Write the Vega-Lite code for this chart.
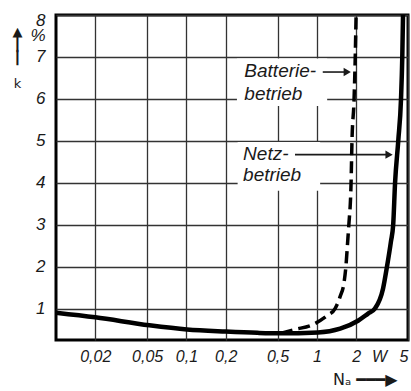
{
  "$schema": "https://vega.github.io/schema/vega-lite/v6.json",
  "width": 352,
  "height": 325,
  "autosize": {"type": "none"},
  "padding": {"left": 56, "top": 15, "right": 3, "bottom": 51},
  "background": "white",
  "config": {"view": {"stroke": "black", "strokeWidth": 3}, "font": "Liberation Sans"},
  "datasets": {
    "curves": [
      {"series": "Netzbetrieb", "x": 0.01, "y": 0.9},
      {"series": "Netzbetrieb", "x": 0.02, "y": 0.79},
      {"series": "Netzbetrieb", "x": 0.052, "y": 0.6},
      {"series": "Netzbetrieb", "x": 0.101, "y": 0.5},
      {"series": "Netzbetrieb", "x": 0.2, "y": 0.45},
      {"series": "Netzbetrieb", "x": 0.35, "y": 0.42},
      {"series": "Netzbetrieb", "x": 0.513, "y": 0.41},
      {"series": "Netzbetrieb", "x": 1.02, "y": 0.43},
      {"series": "Netzbetrieb", "x": 1.51, "y": 0.52},
      {"series": "Netzbetrieb", "x": 2.07, "y": 0.71},
      {"series": "Netzbetrieb", "x": 2.47, "y": 0.88},
      {"series": "Netzbetrieb", "x": 2.79, "y": 1.0},
      {"series": "Netzbetrieb", "x": 3.22, "y": 1.48},
      {"series": "Netzbetrieb", "x": 3.45, "y": 2.0},
      {"series": "Netzbetrieb", "x": 3.7, "y": 2.6},
      {"series": "Netzbetrieb", "x": 3.85, "y": 3.0},
      {"series": "Netzbetrieb", "x": 3.98, "y": 4.0},
      {"series": "Netzbetrieb", "x": 4.21, "y": 5.0},
      {"series": "Netzbetrieb", "x": 4.42, "y": 6.0},
      {"series": "Netzbetrieb", "x": 4.52, "y": 7.0},
      {"series": "Netzbetrieb", "x": 4.58, "y": 8.0},
      {"series": "Batteriebetrieb", "x": 0.53, "y": 0.41},
      {"series": "Batteriebetrieb", "x": 0.68, "y": 0.5},
      {"series": "Batteriebetrieb", "x": 0.935, "y": 0.62},
      {"series": "Batteriebetrieb", "x": 1.2, "y": 0.83},
      {"series": "Batteriebetrieb", "x": 1.38, "y": 1.0},
      {"series": "Batteriebetrieb", "x": 1.51, "y": 1.29},
      {"series": "Batteriebetrieb", "x": 1.62, "y": 1.64},
      {"series": "Batteriebetrieb", "x": 1.67, "y": 2.0},
      {"series": "Batteriebetrieb", "x": 1.73, "y": 2.67},
      {"series": "Batteriebetrieb", "x": 1.76, "y": 3.0},
      {"series": "Batteriebetrieb", "x": 1.83, "y": 4.0},
      {"series": "Batteriebetrieb", "x": 1.86, "y": 5.0},
      {"series": "Batteriebetrieb", "x": 1.93, "y": 6.0},
      {"series": "Batteriebetrieb", "x": 1.97, "y": 7.0},
      {"series": "Batteriebetrieb", "x": 2.0, "y": 8.0}
    ],
    "boxes": [
      {"x": 0.244, "xEnd": 1.2, "y": 5.83, "yEnd": 6.96},
      {"x": 0.247, "xEnd": 1.06, "y": 3.81, "yEnd": 4.97}
    ],
    "labels": [
      {"label": "Batterie-", "x": 0.278, "y": 6.67},
      {"label": "betrieb", "x": 0.278, "y": 6.12},
      {"label": "Netz-", "x": 0.272, "y": 4.69},
      {"label": "betrieb", "x": 0.272, "y": 4.19}
    ],
    "arrows": [
      {"x": 1.11, "xEnd": 1.71, "y": 6.64},
      {"x": 0.68, "xEnd": 3.58, "y": 4.67}
    ]
  },
  "encoding": {
    "x": {
      "field": "x", "type": "quantitative",
      "scale": {"type": "log", "domain": [0.01, 5], "nice": false},
      "axis": {
        "values": [0.02, 0.05, 0.1, 0.2, 0.5, 1, 2, 3, 5],
        "labelExpr": "datum.value===3?'W':replace(toString(datum.value),'.',',')",
        "grid": true, "gridColor": "#333", "gridWidth": 1.3,
        "gridOpacity": {"condition": {"test": "datum.value===3", "value": 0}, "value": 1},
        "ticks": false, "domain": false, "labelOverlap": false,
        "labelFont": "Liberation Sans", "labelFontStyle": "italic", "labelFontSize": 16,
        "labelColor": "#1a1a1a", "labelPadding": 8, "labelFlush": true,
        "title": "Nₐ ━━━▶", "titleFont": "DejaVu Sans", "titleFontStyle": "normal",
        "titleFontWeight": "normal", "titleFontSize": 16, "titleColor": "#1a1a1a",
        "titleAnchor": "end", "titleAlign": "right", "titleBaseline": "middle",
        "titleX": 341, "titleY": 39
      }
    },
    "y": {
      "field": "y", "type": "quantitative",
      "scale": {"domain": [0.25, 8], "nice": false, "zero": false},
      "axis": {
        "values": [1, 2, 3, 4, 5, 6, 7, 7.5, 8],
        "labelExpr": "datum.value===7.5?'%':toString(datum.value)",
        "grid": true, "gridColor": "#333", "gridWidth": 1.3,
        "gridOpacity": {"condition": {"test": "datum.value===7.5", "value": 0}, "value": 1},
        "ticks": false, "domain": false, "labelOverlap": false,
        "labelFont": "Liberation Sans", "labelFontStyle": "italic", "labelFontSize": 17,
        "labelColor": "#1a1a1a", "labelPadding": 11, "labelFlush": true, "labelFlushOffset": 3,
        "title": ["▲", "┃", "┃", "\u2800", "k"], "titleFont": "DejaVu Sans", "titleFontStyle": "normal",
        "titleFontWeight": "normal", "titleFontSize": 13, "titleLineHeight": 13,
        "titleColor": "#1a1a1a", "titleAngle": 0, "titleAlign": "center", "titleBaseline": "top",
        "titleX": -39, "titleY": 10
      }
    }
  },
  "layer": [
    {
      "data": {"name": "boxes"},
      "mark": {"type": "rect", "fill": "white", "strokeWidth": 0},
      "encoding": {"x2": {"field": "xEnd"}, "y2": {"field": "yEnd"}}
    },
    {
      "data": {"name": "labels"},
      "mark": {"type": "text", "align": "left", "baseline": "middle", "fontSize": 19, "fontStyle": "italic", "font": "Liberation Sans", "color": "#1a1a1a"},
      "encoding": {"text": {"field": "label"}}
    },
    {
      "data": {"name": "arrows"},
      "mark": {"type": "rule", "color": "#1a1a1a", "strokeWidth": 1.6},
      "encoding": {"x2": {"field": "xEnd"}}
    },
    {
      "data": {"name": "arrows"},
      "mark": {"type": "point", "shape": "triangle-right", "filled": true, "color": "#1a1a1a", "size": 70, "opacity": 1},
      "encoding": {"x": {"field": "xEnd", "type": "quantitative"}}
    },
    {
      "data": {"name": "curves"},
      "transform": [{"filter": "datum.series==='Batteriebetrieb'"}],
      "mark": {"type": "line", "color": "black", "strokeWidth": 3.5, "strokeDash": [12, 6], "interpolate": "monotone"},
      "encoding": {}
    },
    {
      "data": {"name": "curves"},
      "transform": [{"filter": "datum.series==='Netzbetrieb'"}],
      "mark": {"type": "line", "color": "black", "strokeWidth": 4.5, "interpolate": "monotone"},
      "encoding": {}
    }
  ]
}
